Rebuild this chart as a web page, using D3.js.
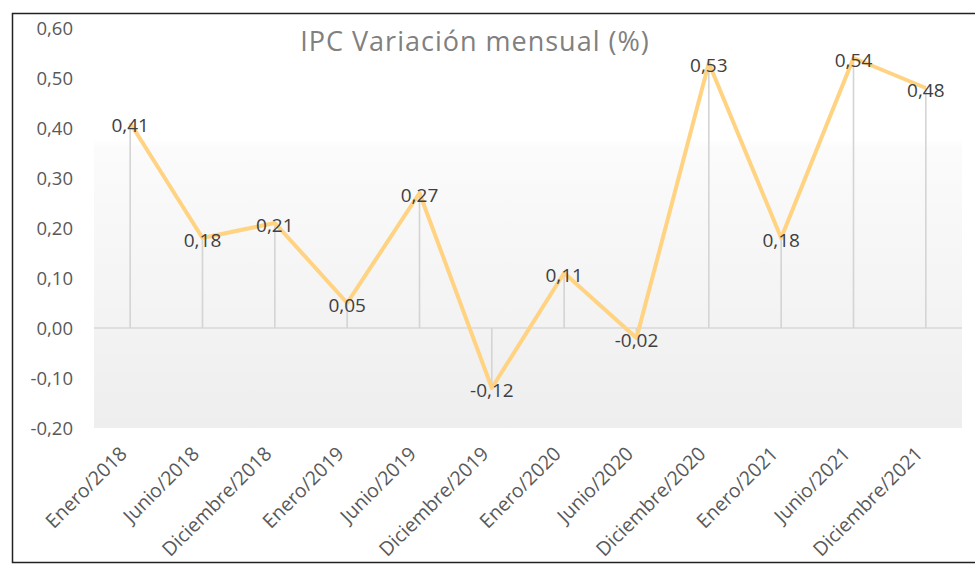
<!DOCTYPE html>
<html><head><meta charset="utf-8">
<script src="https://cdn.jsdelivr.net/npm/d3@7"></script>
<style>body{margin:0;background:#fff}svg{display:block}text{font-family:"Open Sans","Noto Sans",sans-serif}</style>
</head><body>
<svg id="c" width="975" height="565"></svg>
<script>
const categories = ["Enero/2018","Junio/2018","Diciembre/2018","Enero/2019","Junio/2019","Diciembre/2019","Enero/2020","Junio/2020","Diciembre/2020","Enero/2021","Junio/2021","Diciembre/2021"];
const values = [0.41,0.18,0.21,0.05,0.27,-0.12,0.11,-0.02,0.53,0.18,0.54,0.48];
const yTicks = [-0.2,-0.1,0,0.1,0.2,0.3,0.4,0.5,0.6];
const title = "IPC Variación mensual (%)";

const svg = d3.select("#c");
const fmt = v => d3.format(".2f")(v).replace(".", ",").replace("−","-");
const x = d3.scaleBand().domain(categories).range([94, 962]);
const y = d3.scaleLinear().domain([-0.2, 0.6]).range([428, 28]);
const cx = d => x(d) + x.bandwidth()/2;

// frame
svg.append("rect").attr("x",12.5).attr("y",13.5).attr("width",975).attr("height",549)
  .attr("fill","#fff").attr("stroke","#222").attr("stroke-width",1.5);

const defs = svg.append("defs");
const g = defs.append("linearGradient").attr("id","bg").attr("x1",0).attr("y1",0).attr("x2",0).attr("y2",1);
g.append("stop").attr("offset","0%").attr("stop-color","#ffffff");
g.append("stop").attr("offset","28%").attr("stop-color","#ffffff");
g.append("stop").attr("offset","30%").attr("stop-color","#fbfbfb");
g.append("stop").attr("offset","100%").attr("stop-color","#eeeeee");
svg.append("rect").attr("x",94).attr("y",y(0.6)).attr("width",962-94).attr("height",y(-0.2)-y(0.6)).attr("fill","url(#bg)");

// title
svg.append("text").attr("x",475).attr("y",51).attr("text-anchor","middle")
  .attr("font-size",27).attr("letter-spacing",1).attr("fill","#808080").text(title);

// y axis labels
svg.append("g").selectAll("text").data(yTicks).join("text")
  .attr("x",73).attr("y",d=>y(d)+7).attr("text-anchor","end")
  .attr("font-size",18.5).attr("fill","#595959").text(d=>fmt(d));

// zero line
svg.append("line").attr("x1",94).attr("x2",962).attr("y1",y(0)).attr("y2",y(0))
  .attr("stroke","#d9d9d9").attr("stroke-width",1.5);

// drop lines
svg.append("g").selectAll("line").data(categories).join("line")
  .attr("x1",d=>cx(d)).attr("x2",d=>cx(d))
  .attr("y1",(d,i)=>y(values[i])).attr("y2",y(0))
  .attr("stroke","#d4d4d4").attr("stroke-width",1.6);

// line
const line = d3.line().x((d,i)=>cx(categories[i])).y(d=>y(d));
svg.append("path").datum(values).attr("d",line).attr("fill","none")
  .attr("stroke","#ffd382").attr("stroke-width",4).attr("stroke-linejoin","round");

// data labels
svg.append("g").selectAll("text").data(values).join("text")
  .attr("x",(d,i)=>cx(categories[i])).attr("y",d=>y(d)+9).attr("text-anchor","middle")
  .attr("font-size",19).attr("fill","#404040").text(d=>fmt(d));

// x labels
svg.append("g").selectAll("text").data(categories).join("text")
  .attr("transform",d=>`translate(${cx(d)-2},${455}) rotate(-45)`)
  .attr("text-anchor","end").attr("font-size",19.5).attr("fill","#595959").text(d=>d);
</script>
</body></html>
